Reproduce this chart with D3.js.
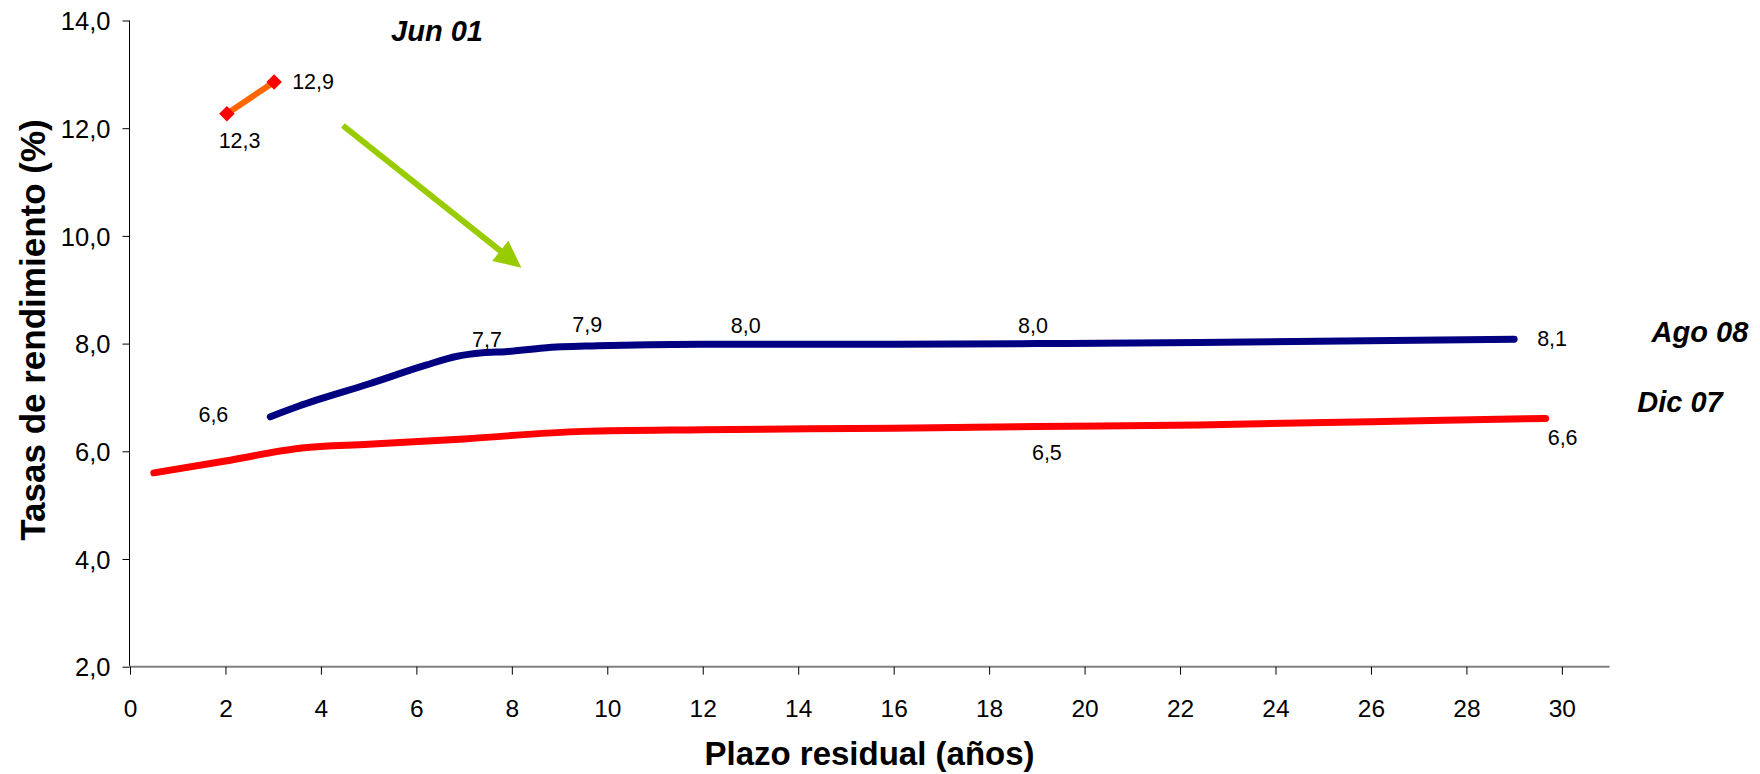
<!DOCTYPE html>
<html>
<head>
<meta charset="utf-8">
<script src="https://cdn.jsdelivr.net/npm/d3@7"></script>
<style>
  html, body { margin: 0; padding: 0; background: #fff; }
  svg { display: block; font-family: "Liberation Sans", Arial, sans-serif; }
</style>
</head>
<body>
<svg id="chart" width="1760" height="774"></svg>
<script>
// ---- Data ----
const xTicks = [0, 2, 4, 6, 8, 10, 12, 14, 16, 18, 20, 22, 24, 26, 28, 30];
const yTicks = [2, 4, 6, 8, 10, 12, 14];

const jun01X = [2.03, 3.02];
const jun01Y = [12.27, 12.86];

const dic07X = [0.5, 2.0, 3.6, 5.0, 7.0, 9.5, 12.0, 16.0, 19.0, 22.4, 26.0, 29.66];
const dic07Y = [5.6, 5.82, 6.06, 6.13, 6.23, 6.37, 6.40, 6.43, 6.46, 6.49, 6.55, 6.61];

const ago08X = [2.94, 3.54, 5.0, 6.2, 6.83, 7.39, 7.87, 8.67, 9.79, 11.94, 16.0, 19.0, 22.4, 29.0];
const ago08Y = [6.64, 6.84, 7.25, 7.6, 7.76, 7.83, 7.85, 7.92, 7.96, 7.99, 7.99, 8.0, 8.02, 8.08];

// data labels: text, anchor point (data units)
const labelText = ["12,3", "12,9", "6,6", "7,7", "7,9", "8,0", "8,0", "8,1", "6,5", "6,6"];
const labelX    = [2.03, 3.02, 2.94, 7.48, 9.58, 12.9, 18.92, 29.0, 19.21, 29.66];
const labelY    = [12.27, 12.86, 6.64, 7.84, 7.96, 7.99, 8.0, 8.08, 6.46, 6.61];

// series names (data units)
const seriesNames = ["Jun 01", "Ago 08", "Dic 07"];
const seriesNameX = [5.47, 31.88, 31.58];
const seriesNameY = [13.625, 8.035, 6.735];

// arrow (data units)
const arrowX = [4.46, 8.2];
const arrowY = [12.05, 9.41];

// ---- Layout / style ----
const labelDx = [12.7, 18, -42, 0, 0, 0, 0, 23, 0, 17];
const labelDy = [34, 7, 5, -5, -13.5, -11.6, -11, 7, 33.5, 26.6];
const labelAnchor = ["middle", "start", "end", "middle", "middle", "middle", "middle", "start", "middle", "middle"];

const svg = d3.select("#chart");
const x = d3.scaleLinear().domain([0, 31]).range([130, 1609.6]);
const y = d3.scaleLinear().domain([2, 14]).range([666.7, 20.5]);
const fmt = v => d3.format(".1f")(v).replace(".", ",");

// Y axis
const yAxis = svg.append("g").attr("transform", "translate(129.5,0)")
  .call(d3.axisLeft(y).tickValues(yTicks).tickSize(7).tickFormat(fmt).tickPadding(12));
yAxis.select(".domain").attr("stroke", "#000").attr("stroke-width", 1).attr("d", `M0,${y(2)}V${y(14)}`);
yAxis.selectAll(".tick line").attr("stroke", "#000");
yAxis.selectAll(".tick text").attr("font-size", 25.5).attr("fill", "#000")
  .attr("font-family", "'Liberation Sans', Arial, sans-serif").attr("dy", "0.36em");

// X axis
const xAxis = svg.append("g").attr("transform", `translate(0,${y(2)})`)
  .call(d3.axisBottom(x).tickValues(xTicks).tickSize(8).tickFormat(d3.format("d")).tickPadding(10));
xAxis.select(".domain").attr("stroke", "#808080").attr("stroke-width", 2).attr("d", `M${x(0) - 1},0H${x(31)}`);
xAxis.selectAll(".tick line").attr("stroke", "#000");
xAxis.selectAll(".tick text").attr("font-size", 24.5).attr("fill", "#000")
  .attr("font-family", "'Liberation Sans', Arial, sans-serif").attr("dy", "1.3em");

// Axis titles
svg.append("text").attr("x", 869.5).attr("y", 765).attr("text-anchor", "middle")
  .attr("font-size", 33).attr("font-weight", "bold").text("Plazo residual (años)");
svg.append("text").attr("transform", "translate(45,330) rotate(-90)").attr("text-anchor", "middle")
  .attr("font-size", 35).attr("font-weight", "bold").text("Tasas de rendimiento (%)");

// Lines
const line = d3.line().x(d => x(d[0])).y(d => y(d[1])).curve(d3.curveMonotoneX);
const dic = dic07X.map((v, i) => [v, dic07Y[i]]);
const ago = ago08X.map((v, i) => [v, ago08Y[i]]);
const jun = jun01X.map((v, i) => [v, jun01Y[i]]);

svg.append("path").attr("d", line(dic)).attr("fill", "none").attr("stroke", "#FF0000")
  .attr("stroke-width", 7).attr("stroke-linecap", "round").attr("stroke-linejoin", "round");
svg.append("path").attr("d", line(ago)).attr("fill", "none").attr("stroke", "#000080")
  .attr("stroke-width", 7).attr("stroke-linecap", "round").attr("stroke-linejoin", "round");
svg.append("path").attr("d", d3.line().x(d => x(d[0])).y(d => y(d[1]))(jun)).attr("fill", "none")
  .attr("stroke", "#FF6600").attr("stroke-width", 6);
svg.selectAll(".jm").data(jun).join("path").attr("class", "jm")
  .attr("d", d3.symbol().type(d3.symbolSquare).size(120))
  .attr("transform", d => `translate(${x(d[0])},${y(d[1])}) rotate(45)`)
  .attr("fill", "#FF0000");

// Arrow
const ax0 = x(arrowX[0]), ay0 = y(arrowY[0]), ax1 = x(arrowX[1]), ay1 = y(arrowY[1]);
const ang = Math.atan2(ay1 - ay0, ax1 - ax0);
const headLen = 27, headHalf = 13;
const bx = ax1 - headLen * Math.cos(ang), by = ay1 - headLen * Math.sin(ang);
svg.append("line").attr("x1", ax0).attr("y1", ay0).attr("x2", bx + 3 * Math.cos(ang)).attr("y2", by + 3 * Math.sin(ang))
  .attr("stroke", "#99CC00").attr("stroke-width", 6);
svg.append("path").attr("d", `M${ax1},${ay1}L${bx - headHalf * Math.sin(ang)},${by + headHalf * Math.cos(ang)}L${bx + headHalf * Math.sin(ang)},${by - headHalf * Math.cos(ang)}Z`)
  .attr("fill", "#99CC00");

// Data labels
svg.selectAll(".dl").data(labelText).join("text").attr("class", "dl")
  .attr("x", (d, i) => x(labelX[i]) + labelDx[i])
  .attr("y", (d, i) => y(labelY[i]) + labelDy[i])
  .attr("text-anchor", (d, i) => labelAnchor[i])
  .attr("font-size", 21.5).attr("fill", "#000").text(d => d);

// Series names
svg.selectAll(".sn").data(seriesNames).join("text").attr("class", "sn")
  .attr("x", (d, i) => x(seriesNameX[i])).attr("y", (d, i) => y(seriesNameY[i]))
  .attr("font-size", 29).attr("font-weight", "bold").attr("font-style", "italic")
  .attr("fill", "#000").text(d => d);
</script>
</body>
</html>
